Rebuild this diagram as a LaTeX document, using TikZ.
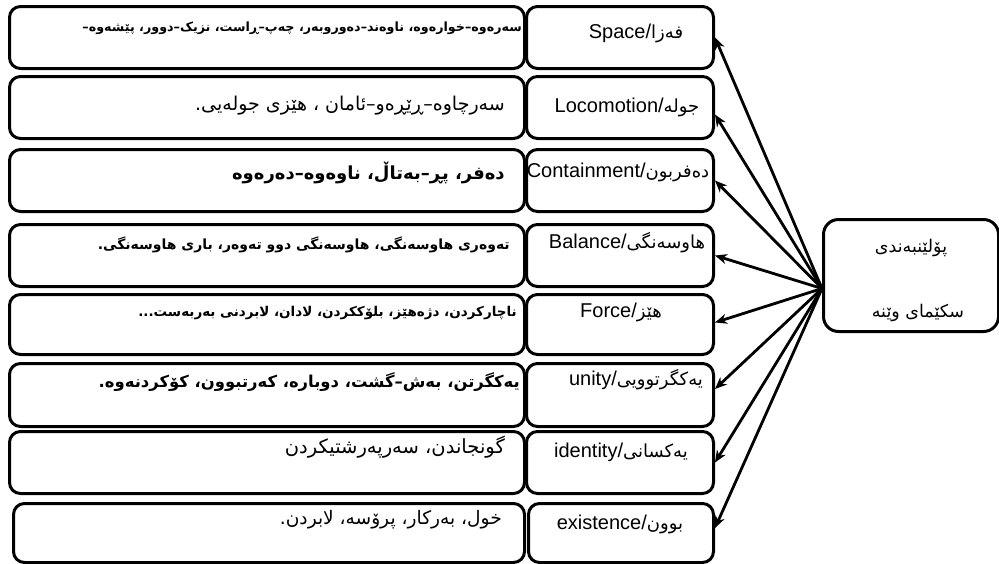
\documentclass[tikz,border=0pt]{standalone}
\usepackage{fontspec}
\setmainfont{Liberation Sans}
\newfontfamily\ar[Script=Arabic]{DejaVu Sans}
\TeXXeTstate=1
\usetikzlibrary{arrows.meta}
\newcommand{\arl}[1]{{\ar\fontsize{18}{20}\selectfont\beginR #1\endR}}
\begin{document}
\begin{tikzpicture}[x=1pt,y=-1pt,
  box/.style={draw, line width=3pt, rounded corners=11pt, inner sep=0pt, anchor=north west},
  lbl/.style={inner sep=0pt, font=\fontsize{20}{22}\selectfont},
  ktxt/.style={inner sep=0pt, anchor=east},
  conn/.style={line width=2.8pt, -{Stealth[length=12pt,width=10pt]}}]
\useasboundingbox (0,0) rectangle (999,563);
% left boxes
\node[box, minimum width=515pt, minimum height=62pt] (l1) at (8,5) {};
\node[box, minimum width=515pt, minimum height=62pt] (l2) at (8,75) {};
\node[box, minimum width=515pt, minimum height=62pt] (l3) at (8,148) {};
\node[box, minimum width=515pt, minimum height=62pt] (l4) at (8,223) {};
\node[box, minimum width=515pt, minimum height=60pt] (l5) at (8,293) {};
\node[box, minimum width=515pt, minimum height=63pt] (l6) at (8,362) {};
\node[box, minimum width=515pt, minimum height=62pt] (l7) at (8,430) {};
\node[box, minimum width=511pt, minimum height=59pt] (l8) at (12,502) {};
% right boxes
\node[box, minimum width=187pt, minimum height=62pt] (r1) at (525,5) {};
\node[box, minimum width=187pt, minimum height=62pt] (r2) at (525,75) {};
\node[box, minimum width=187pt, minimum height=62pt] (r3) at (525,148) {};
\node[box, minimum width=187pt, minimum height=62pt] (r4) at (525,223) {};
\node[box, minimum width=187pt, minimum height=60pt] (r5) at (525,293) {};
\node[box, minimum width=187pt, minimum height=63pt] (r6) at (525,362) {};
\node[box, minimum width=187pt, minimum height=62pt] (r7) at (525,430) {};
\node[box, minimum width=185pt, minimum height=59pt] (r8) at (527,502) {};
% centre box
\node[box, rounded corners=15pt, minimum width=175pt, minimum height=112pt] (c) at (822,218) {};
\node[inner sep=0pt, font=\ar\fontsize{17.5}{20}\selectfont] (c1) at (911,248) {\beginR پۆلێنبەندی\endR};
\node[inner sep=0pt, font=\ar\fontsize{17.5}{20}\selectfont] (c2) at (918,313) {\beginR سکێمای وێنە\endR};
% right labels
\node[lbl] (t1) at (636,33) {Space/\arl{فەزا}};
\node[lbl] (t2) at (627,107) {Locomotion/\arl{جولە}};
\node[lbl] (t3) at (618,172) {Containment/\arl{دەفربون}};
\node[lbl] (t4) at (627,243) {Balance/\arl{هاوسەنگی}};
\node[lbl] (t5) at (621,312) {Force/\arl{هێز}};
\node[lbl] (t6) at (636,380) {unity/\arl{یەکگرتوویی}};
\node[lbl] (t7) at (621,452) {identity/\arl{یەکسانی}};
\node[lbl] (t8) at (620,524) {existence/\arl{بوون}};
% left texts
\node[ktxt, font=\ar\bfseries\fontsize{12.7}{14}\selectfont] (k1) at (522,28) {\beginR سەرەوە–خوارەوە، ناوەند–دەوروبەر، چەپ–ڕاست، نزیک–دوور، پێشەوە–\endR};
\node[ktxt, font=\ar\fontsize{19}{21}\selectfont] (k2) at (505,106) {\beginR سەرچاوە–ڕێڕەو–ئامان ، هێزی جولەیی.\endR};
\node[ktxt, font=\ar\bfseries\fontsize{18}{20}\selectfont] (k3) at (505,173) {\beginR دەفر، پڕ–بەتاڵ، ناوەوە–دەرەوە\endR};
\node[ktxt, font=\ar\bfseries\fontsize{14}{16}\selectfont] (k4) at (510,245) {\beginR تەوەری هاوسەنگی، هاوسەنگی دوو تەوەر، باری هاوسەنگی.\endR};
\node[ktxt, font=\ar\bfseries\fontsize{13.5}{15}\selectfont] (k5) at (517,313) {\beginR ناچارکردن، دژەهێز، بلۆککردن، لادان، لابردنی بەربەست...\endR};
\node[ktxt, font=\ar\bfseries\fontsize{16.4}{18}\selectfont] (k6) at (520,382) {\beginR یەکگرتن، بەش–گشت، دوبارە، کەرتبوون، کۆکردنەوە.\endR};
\node[ktxt, font=\ar\fontsize{19.5}{21}\selectfont] (k7) at (505,447) {\beginR گونجاندن، سەرپەرشتیکردن\endR};
\node[ktxt, font=\ar\fontsize{18.6}{21}\selectfont] (k8) at (502,520) {\beginR خول، بەرکار، پرۆسە، لابردن.\endR};
% connectors
\coordinate (src) at ([yshift=-13pt]c.west);
\draw[conn] (src) -- (r1.east);
\draw[conn] (src) -- ([yshift=-7pt]r2.east);
\draw[conn] (src) -- (r3.east);
\draw[conn] (src) -- (r4.east);
\draw[conn] (src) -- ([yshift=2pt]r5.east);
\draw[conn] (src) -- ([yshift=6pt]r6.east);
\draw[conn] (src) -- (r7.east);
\draw[conn] (src) -- ([yshift=5pt]r8.east);
\end{tikzpicture}
\end{document}
